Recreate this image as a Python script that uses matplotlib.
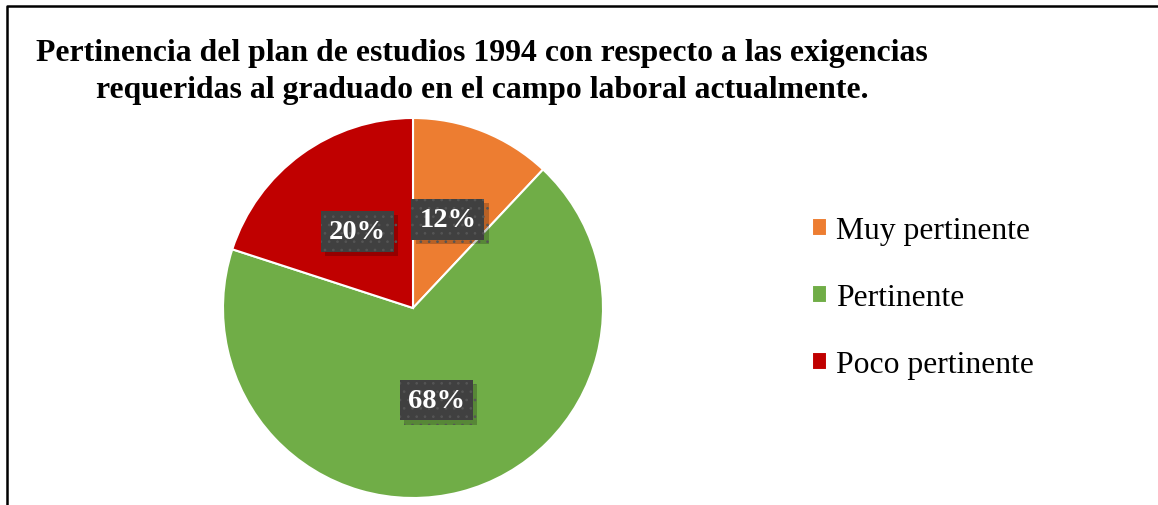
import matplotlib
matplotlib.use("Agg")
import matplotlib.pyplot as plt
from matplotlib.lines import Line2D
from matplotlib import patheffects

plt.rcParams['font.family'] = ['Liberation Serif', 'DejaVu Serif']
plt.rcParams['hatch.linewidth'] = 0.7

categories = ["Muy pertinente", "Pertinente", "Poco pertinente"]
values = [12, 68, 20]
colors = ["#ED7D31", "#70AD47", "#C00000"]
title = ("Pertinencia del plan de estudios 1994 con respecto a las exigencias\n"
         "requeridas al graduado en el campo laboral actualmente.")

W, H = 1158, 506
fig = plt.figure(figsize=(W / 100, H / 100), dpi=100)

R = 190
cx, cy = 413, 309
ax = fig.add_axes([(cx - R) / W, (H - cy - R) / H, 2 * R / W, 2 * R / H])

wedges, texts, autotexts = ax.pie(
    values, colors=colors, startangle=90, counterclock=False,
    autopct=lambda p: f"{p:.0f}%", pctdistance=0.5,
    wedgeprops=dict(edgecolor="white", linewidth=1.5),
    textprops=dict(color="white", fontsize=20.5, fontweight="bold"),
)
ax.set_xlim(-1, 1)
ax.set_ylim(-1, 1)
ax.set_aspect("equal")
for w in wedges:
    w.set_clip_on(False)

# dark label boxes with a faint dotted pattern and a soft shadow
for t in autotexts:
    t.set_bbox(dict(boxstyle="square,pad=0.28", facecolor="#404040",
                    edgecolor="#555555", linewidth=0, hatch=".."))
    t.get_bbox_patch().set_path_effects([
        patheffects.SimplePatchShadow(offset=(3, -3), shadow_rgbFace="black", alpha=0.22),
        patheffects.Normal(),
    ])

fig.text(482 / W, 1 - 39 / H, title, ha="center", va="top",
         fontsize=22.9, fontweight="bold", linespacing=1.35)

fig.legend(wedges, categories, loc="center left",
           bbox_to_anchor=(783 / W, 1 - 299 / H), frameon=False,
           fontsize=22.8, handlelength=0.48, handleheight=0.48,
           handletextpad=0.3, labelspacing=1.2)

# outer border (top and left)
fig.add_artist(Line2D([7 / W, 7 / W, 1], [0, 1 - 7 / H, 1 - 7 / H],
                      transform=fig.transFigure, color="black", linewidth=1.8))

fig.savefig("out.png", dpi=100, facecolor="white")
